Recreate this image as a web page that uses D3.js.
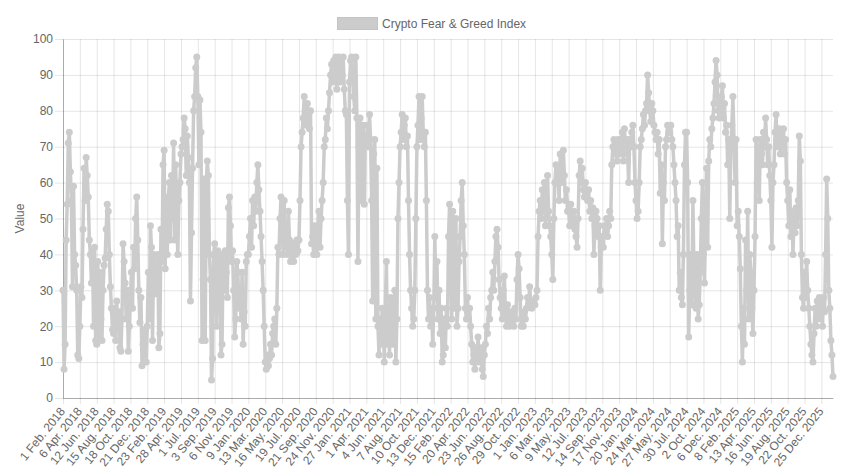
<!DOCTYPE html>
<html>
<head>
<meta charset="utf-8">
<script src="https://cdn.jsdelivr.net/npm/d3@7"></script>
<style>
  body { margin: 0; background: #fff; }
  svg { display: block; font-family: 'Helvetica Neue', Helvetica, Arial, 'Liberation Sans', sans-serif; }
</style>
</head>
<body>
<div id="chart"></div>
<script>
const seriesName = 'Crypto Fear & Greed Index'
const yTitle = 'Value'

// one label every 64 daily points, as the original axis shows them
const tickLabels = [
  '1 Feb. 2018', '6 Apr. 2018', '12 Jun. 2018', '15 Aug. 2018', '18 Oct. 2018', '21 Dec. 2018',
  '23 Feb. 2019', '28 Apr. 2019', '1 Jul. 2019', '3 Sep. 2019', '6 Nov. 2019', '9 Jan. 2020',
  '13 Mar. 2020', '16 May. 2020', '19 Jul. 2020', '21 Sep. 2020', '24 Nov. 2020', '27 Jan. 2021',
  '1 Apr. 2021', '4 Jun. 2021', '7 Aug. 2021', '10 Oct. 2021', '13 Dec. 2021', '15 Feb. 2022',
  '20 Apr. 2022', '23 Jun. 2022', '26 Aug. 2022', '29 Oct. 2022', '1 Jan. 2023', '6 Mar. 2023',
  '9 May. 2023', '12 Jul. 2023', '14 Sep. 2023', '17 Nov. 2023', '20 Jan. 2024', '24 Mar. 2024',
  '27 May. 2024', '30 Jul. 2024', '2 Oct. 2024', '6 Dec. 2024', '8 Feb. 2025', '13 Apr. 2025',
  '16 Jun. 2025', '19 Aug. 2025', '22 Oct. 2025', '25 Dec. 2025'
]
const pointsPerTick = 64
const pointsPerSample = 4

// index value, one reading every 4 points, one row per label interval
const fearGreed = [
  [30, 8, 15, 44, 54, 71, 74, 63, 55, 31, 59, 40, 37, 30, 12, 11],
  [20, 31, 28, 47, 64, 55, 67, 62, 56, 44, 40, 32, 41, 20, 42, 16],
  [15, 38, 17, 35, 22, 16, 30, 37, 39, 47, 54, 52, 40, 31, 25, 19],
  [18, 25, 16, 27, 20, 24, 14, 13, 22, 43, 38, 32, 22, 30, 13, 20],
  [28, 35, 25, 42, 36, 50, 56, 44, 30, 21, 28, 9, 15, 12, 19, 10],
  [20, 35, 22, 48, 42, 16, 40, 29, 38, 35, 40, 14, 18, 47, 38, 65],
  [69, 36, 55, 40, 56, 60, 44, 62, 50, 71, 44, 65, 50, 40, 55, 60],
  [68, 70, 72, 78, 75, 62, 73, 67, 60, 27, 46, 64, 80, 84, 92, 95],
  [84, 65, 83, 74, 16, 33, 61, 16, 60, 66, 62, 40, 33, 5, 11, 40],
  [43, 38, 20, 41, 30, 39, 12, 15, 40, 30, 41, 35, 28, 53, 56, 48],
  [38, 41, 30, 17, 22, 38, 35, 25, 30, 22, 35, 15, 24, 20, 38, 40],
  [40, 45, 50, 42, 55, 48, 56, 52, 60, 65, 58, 52, 45, 38, 30, 20],
  [10, 8, 12, 9, 11, 15, 12, 18, 20, 22, 15, 25, 42, 40, 50, 56],
  [50, 40, 55, 42, 48, 40, 52, 44, 38, 40, 43, 38, 42, 40, 44, 41],
  [44, 55, 70, 74, 78, 84, 80, 76, 82, 78, 75, 80, 43, 45, 40, 48],
  [45, 40, 48, 52, 42, 50, 55, 60, 70, 72, 78, 75, 80, 85, 90, 93],
  [88, 94, 90, 95, 86, 92, 95, 88, 93, 90, 95, 86, 80, 79, 55, 40],
  [88, 94, 95, 90, 84, 80, 95, 78, 38, 70, 78, 55, 72, 76, 54, 73],
  [72, 76, 70, 79, 72, 55, 27, 68, 72, 22, 64, 20, 12, 22, 15, 25],
  [22, 10, 25, 38, 15, 22, 12, 28, 20, 15, 25, 30, 10, 22, 50, 60],
  [70, 74, 79, 72, 76, 78, 70, 73, 55, 40, 30, 25, 20, 22, 30, 50],
  [70, 76, 84, 72, 78, 84, 74, 70, 74, 55, 30, 22, 28, 20, 25, 15],
  [25, 45, 28, 38, 22, 30, 18, 25, 10, 12, 22, 14, 25, 20, 45, 54],
  [45, 22, 52, 25, 30, 50, 20, 25, 38, 45, 55, 60, 48, 40, 25, 22],
  [28, 22, 25, 20, 15, 10, 12, 8, 14, 10, 17, 12, 10, 14, 8, 6],
  [12, 15, 20, 18, 25, 22, 28, 30, 35, 30, 38, 45, 47, 42, 33, 28],
  [25, 22, 30, 34, 24, 20, 26, 22, 20, 24, 21, 23, 20, 25, 22, 33],
  [40, 36, 28, 20, 22, 20, 24, 22, 25, 28, 26, 31, 27, 25, 26, 27],
  [26, 28, 30, 45, 52, 55, 50, 58, 52, 60, 48, 55, 62, 52, 48, 45],
  [40, 33, 50, 60, 65, 60, 62, 55, 68, 64, 60, 69, 62, 55, 58, 52],
  [52, 48, 54, 50, 48, 52, 47, 45, 42, 50, 62, 66, 60, 64, 58, 56],
  [60, 56, 55, 58, 52, 55, 50, 53, 40, 48, 52, 50, 45, 48, 30, 42],
  [45, 42, 48, 46, 50, 45, 48, 52, 50, 65, 70, 72, 68, 70, 66, 72],
  [68, 72, 70, 74, 66, 75, 70, 72, 68, 60, 72, 70, 74, 76, 70, 60],
  [55, 50, 52, 60, 70, 72, 75, 79, 76, 80, 82, 90, 85, 80, 77, 82],
  [80, 76, 74, 72, 74, 68, 72, 57, 65, 43, 60, 55, 70, 72, 76, 74],
  [74, 76, 72, 70, 65, 60, 55, 45, 48, 30, 35, 28, 26, 40, 65, 74],
  [74, 60, 17, 30, 40, 26, 55, 35, 30, 25, 40, 22, 26, 35, 50, 60],
  [40, 32, 50, 64, 42, 66, 72, 70, 75, 78, 82, 88, 94, 90, 80, 78],
  [80, 84, 87, 78, 82, 74, 76, 65, 72, 50, 70, 76, 84, 72, 60, 72],
  [48, 52, 45, 36, 20, 10, 25, 15, 44, 30, 52, 22, 40, 35, 25, 18],
  [30, 45, 72, 60, 70, 55, 72, 68, 65, 74, 70, 78, 72, 65, 70, 62],
  [55, 42, 60, 65, 74, 79, 70, 72, 75, 68, 73, 70, 75, 68, 72, 60],
  [55, 48, 58, 45, 52, 40, 50, 46, 53, 48, 55, 73, 66, 40, 28, 25],
  [35, 28, 38, 30, 25, 20, 15, 12, 10, 18, 25, 20, 27, 22, 28, 25],
  [25, 20, 28, 24, 40, 61, 50, 30, 25, 16, 12, 6]
].flat()

const lineColor = 'rgb(204,204,204)'
const gridColor = 'rgba(0,0,0,0.1)'
const axisColor = 'rgba(0,0,0,0.25)'
const textColor = '#666'

function drawChart(container) {
  const outerWidth = 843
  const outerHeight = 472
  const margin = { top: 39, right: 10, bottom: 74, left: 63 }
  const width = outerWidth - margin.left - margin.right
  const height = outerHeight - margin.top - margin.bottom

  const x = d3.scaleLinear()
    .domain([0, (fearGreed.length - 1) * pointsPerSample])
    .range([0, width])
  const y = d3.scaleLinear().domain([0, 100]).range([height, 0])

  const svg = container.append('svg')
    .attr('width', outerWidth)
    .attr('height', outerHeight)

  // legend
  const legend = svg.append('g').attr('class', 'legend')
  legend.append('rect')
    .attr('x', 337.5).attr('y', 17.5)
    .attr('width', 40).attr('height', 12)
    .attr('fill', lineColor)
    .attr('stroke', '#c4c4c4')
  legend.append('text')
    .attr('x', 382).attr('y', 23.5)
    .attr('dy', '0.35em')
    .attr('font-size', 12)
    .attr('fill', textColor)
    .text(seriesName)

  svg.append('text')
    .attr('transform', 'translate(20,' + (margin.top + height / 2) + ') rotate(-90)')
    .attr('text-anchor', 'middle')
    .attr('dy', '0.35em')
    .attr('font-size', 12)
    .attr('fill', textColor)
    .text(yTitle)

  const g = svg.append('g')
    .attr('transform', 'translate(' + margin.left + ',' + margin.top + ')')

  const tickValues = tickLabels.map((d, i) => i * pointsPerTick)

  // grid
  g.append('g')
    .attr('class', 'grid grid--y')
    .call(d3.axisLeft(y).ticks(10).tickSize(-width).tickFormat(''))
    .call(s => s.select('.domain').remove())
    .call(s => s.selectAll('line').attr('stroke', gridColor))
  g.append('g')
    .attr('class', 'grid grid--x')
    .attr('transform', 'translate(0,' + height + ')')
    .call(d3.axisBottom(x).tickValues(tickValues).tickSize(-height).tickFormat(''))
    .call(s => s.select('.domain').remove())
    .call(s => s.selectAll('line').attr('stroke', gridColor))

  // axes
  g.append('g')
    .attr('class', 'axis axis--y')
    .call(d3.axisLeft(y).ticks(10).tickSize(8).tickSizeOuter(0).tickPadding(2))
    .call(s => s.select('.domain').attr('stroke', axisColor))
    .call(s => s.selectAll('.tick line').attr('stroke', gridColor))
    .call(s => s.selectAll('text').attr('font-size', 12).attr('fill', textColor).attr('font-family', null))

  const axisX = g.append('g')
    .attr('class', 'axis axis--x')
    .attr('transform', 'translate(0,' + height + ')')
    .call(d3.axisBottom(x)
      .tickValues(tickValues)
      .tickFormat((d, i) => tickLabels[i])
      .tickSize(6)
      .tickSizeOuter(0))
  axisX.select('.domain').attr('stroke', axisColor)
  axisX.selectAll('.tick line').attr('stroke', gridColor)
  axisX.selectAll('text')
    .attr('font-size', 12)
    .attr('font-family', null)
    .attr('fill', textColor)
    .attr('text-anchor', 'end')
    .attr('x', 0).attr('y', 0).attr('dy', '0.35em')
    .attr('transform', 'translate(-1,11) rotate(-51)')

  // series
  const line = d3.line()
    .x((d, i) => x(i * pointsPerSample))
    .y(d => y(d))

  const plot = g.append('g').attr('class', 'g-plot')
  plot.append('path')
    .datum(fearGreed)
    .attr('fill', 'none')
    .attr('stroke', lineColor)
    .attr('stroke-width', 3.5)
    .attr('stroke-linejoin', 'round')
    .attr('d', line)

  plot.selectAll('.point')
    .data(fearGreed)
    .enter()
    .append('circle')
    .attr('class', 'point')
    .attr('cx', (d, i) => x(i * pointsPerSample))
    .attr('cy', d => y(d))
    .attr('r', 3.5)
    .attr('fill', lineColor)
}

drawChart(d3.select('#chart'))
</script>
</body>
</html>
